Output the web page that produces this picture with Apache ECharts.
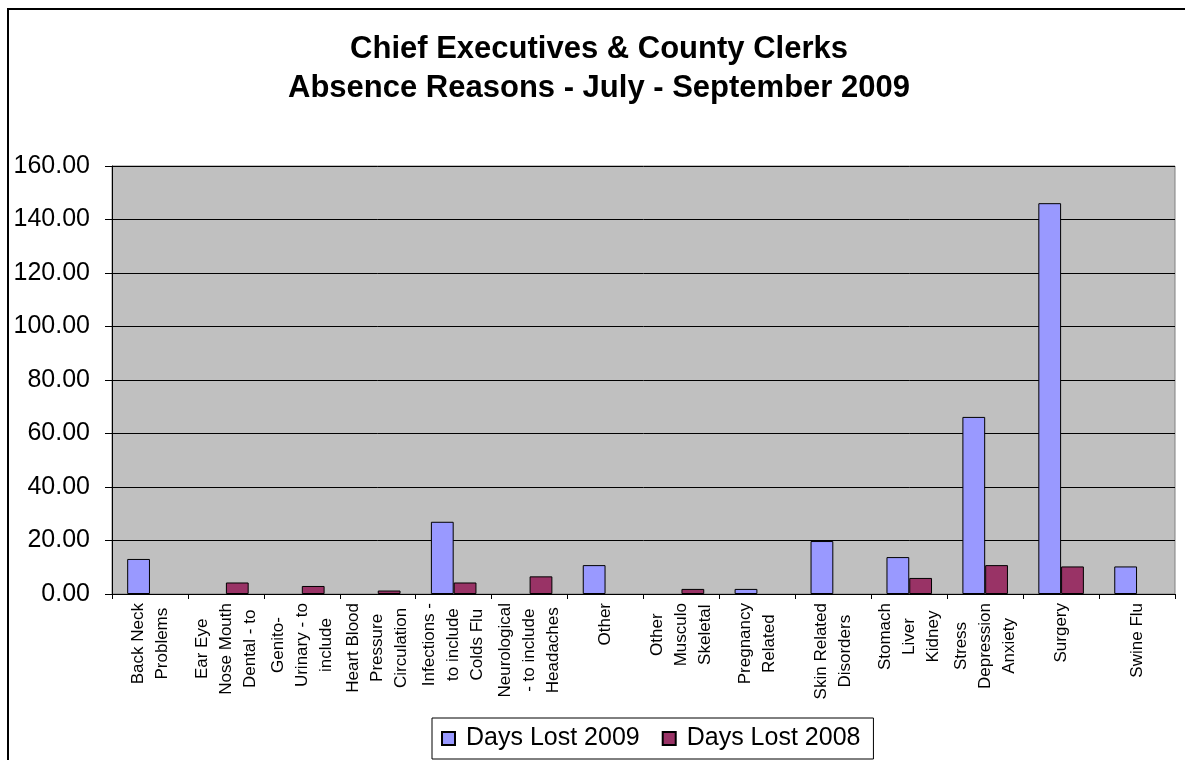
<!DOCTYPE html>
<html>
<head>
<meta charset="utf-8">
<script src="https://cdn.jsdelivr.net/npm/echarts@6/dist/echarts.min.js"></script>
<style>
  html, body { margin: 0; padding: 0; background: #fff; }
  #chart { width: 1185px; height: 760px; }
</style>
</head>
<body>
<div id="chart"></div>
<script>
// Absence reasons (category labels broken into lines as shown under the axis)
const categories = [
  'Back Neck\nProblems',
  'Ear Eye\nNose Mouth\nDental - to',
  'Genito-\nUrinary - to\ninclude',
  'Heart Blood\nPressure\nCirculation',
  'Infections -\nto include\nColds Flu',
  'Neurological\n- to include\nHeadaches',
  'Other',
  'Other\nMusculo\nSkeletal',
  'Pregnancy\nRelated',
  'Skin Related\nDisorders',
  'Stomach\nLiver\nKidney',
  'Stress\nDepression\nAnxiety',
  'Surgery',
  'Swine Flu'
];

// Days lost per reason (null = no absences recorded)
const daysLost2009 = [13.1, null, null, null, 27.0, null, 10.8, null, 1.9, 19.8, 13.8, 66.2, 146.1, 10.3];
const daysLost2008 = [null, 4.3, 3.0, 1.3, 4.3, 6.6, null, 1.9, null, null, 6.0, 10.8, 10.3, null];

const seriesNames = ['Days Lost 2009', 'Days Lost 2008'];
const titleLines = ['Chief Executives & County Clerks', 'Absence Reasons - July - September 2009'];

const FONT = '"Liberation Sans", Arial, Helvetica, sans-serif';
const LABEL_SIZE = 17;
const LABEL_LINE = 24;

// The rotated category labels keep each line centred within its block:
// measure every line and pad the shorter ones on their axis-side end.
const measureCtx = document.createElement('canvas').getContext('2d');
measureCtx.font = LABEL_SIZE + 'px ' + FONT;
const labelRich = {};
const labelText = {};
categories.forEach(function (cat, i) {
  const lines = cat.split('\n');
  const widths = lines.map(function (s) { return measureCtx.measureText(s).width; });
  const maxW = Math.max.apply(null, widths);
  labelText[cat] = lines.map(function (s, j) {
    const key = 'c' + i + '_' + j;
    labelRich[key] = {
      fontFamily: FONT,
      fontSize: LABEL_SIZE,
      lineHeight: LABEL_LINE,
      color: '#000',
      padding: [0, (maxW - widths[j]) / 2, 0, 0]
    };
    return '{' + key + '|' + s + '}';
  }).join('\n');
});

const chart = echarts.init(document.getElementById('chart'), null, { renderer: 'canvas' });

chart.setOption({
  animation: false,
  backgroundColor: '#ffffff',
  textStyle: { fontFamily: FONT, color: '#000' },
  title: {
    text: titleLines.join('\n'),
    left: 599,
    top: 30,
    textAlign: 'center',
    padding: 0,
    textStyle: {
      fontFamily: FONT,
      fontSize: 31,
      fontWeight: 'bold',
      lineHeight: 39,
      color: '#000'
    }
  },
  graphic: [{
    type: 'rect',
    silent: true,
    z: -1,
    shape: { x: 8, y: 9, width: 1200, height: 800 },
    style: { fill: 'none', stroke: '#000', lineWidth: 2 }
  }],
  legend: {
    data: seriesNames,
    left: 432,
    top: 718,
    orient: 'horizontal',
    icon: 'rect',
    itemWidth: 13,
    itemHeight: 13,
    itemGap: 22,
    padding: [8, 13, 8, 9],
    borderColor: '#000',
    borderWidth: 1,
    borderRadius: 0,
    backgroundColor: '#fff',
    textStyle: {
      fontFamily: FONT,
      fontSize: 25,
      color: '#000',
      padding: [0, 0, 0, 6]
    }
  },
  grid: {
    left: 112,
    right: 10,
    top: 166,
    bottom: 166,
    show: true,
    backgroundColor: '#C0C0C0',
    borderColor: '#808080',
    borderWidth: 1,
    containLabel: false
  },
  xAxis: {
    type: 'category',
    data: categories,
    boundaryGap: true,
    axisLine: { show: true, lineStyle: { color: '#000', width: 1 } },
    axisTick: { show: true, length: 5, inside: false, lineStyle: { color: '#000' } },
    splitLine: { show: false },
    axisLabel: {
      interval: 0,
      rotate: 90,
      margin: 9,
      color: '#000',
      fontFamily: FONT,
      fontSize: LABEL_SIZE,
      lineHeight: LABEL_LINE,
      formatter: function (v) { return labelText[v]; },
      rich: labelRich
    }
  },
  yAxis: {
    type: 'value',
    min: 0,
    max: 160,
    interval: 20,
    axisLine: { show: true, lineStyle: { color: '#000', width: 1 } },
    axisTick: { show: true, length: 7, inside: false, lineStyle: { color: '#000' } },
    splitLine: { show: true, lineStyle: { color: '#000', width: 1 } },
    axisLabel: {
      margin: 22,
      color: '#000',
      fontFamily: FONT,
      fontSize: 25,
      formatter: function (v) { return v.toFixed(2); }
    }
  },
  series: [
    {
      name: seriesNames[0],
      type: 'bar',
      data: daysLost2009,
      barGap: '0%',
      barCategoryGap: '40%',
      itemStyle: { color: '#9999FF', borderColor: '#000', borderWidth: 1 }
    },
    {
      name: seriesNames[1],
      type: 'bar',
      data: daysLost2008,
      itemStyle: { color: '#993366', borderColor: '#000', borderWidth: 1 }
    }
  ]
});
</script>
</body>
</html>
